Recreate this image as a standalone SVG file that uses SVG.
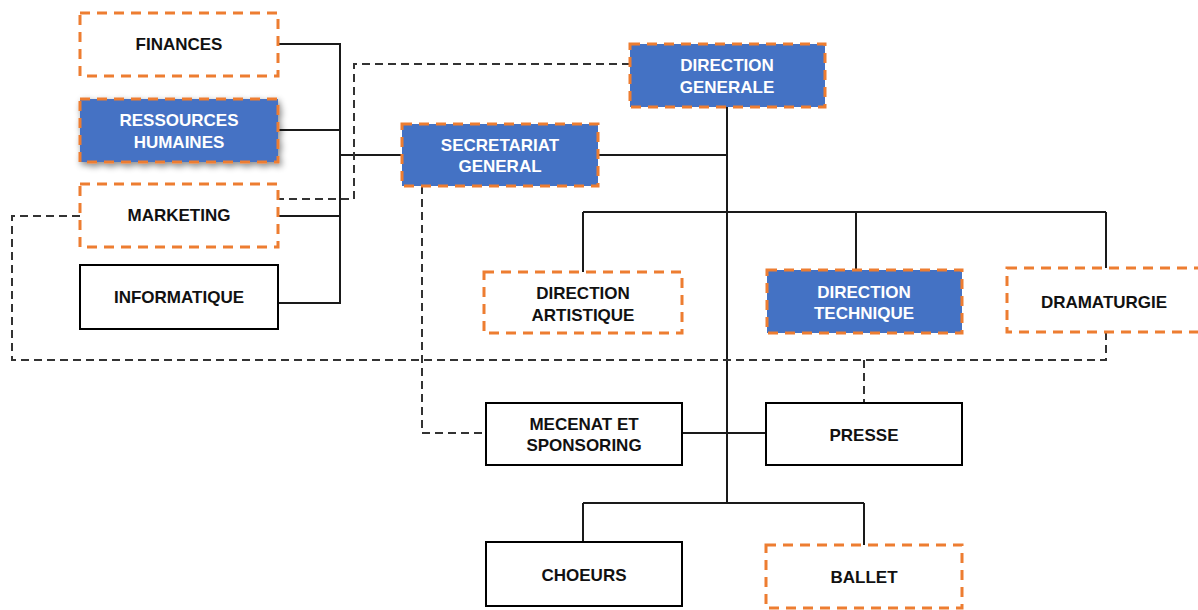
<svg xmlns="http://www.w3.org/2000/svg" width="1198" height="610" viewBox="0 0 1198 610">
<style>
.box{fill:#fff;stroke:#000;stroke-width:2}
.ob{fill:#fff;stroke:#ED7D31;stroke-width:3;stroke-dasharray:10 7}
.bb{fill:#4472C4;stroke:#ED7D31;stroke-width:3;stroke-dasharray:10 7}
.t{font-family:"Liberation Sans",Arial,sans-serif;font-weight:bold;font-size:17px;text-anchor:middle;dominant-baseline:central;fill:#111}
.w{fill:#fff}
.ln{fill:none;stroke:#1a1a1a;stroke-width:2}
.dl{fill:none;stroke:#333;stroke-width:2;stroke-dasharray:8 5}
</style>
<defs>
<filter id="sh" x="-10%" y="-20%" width="125%" height="150%">
<feDropShadow dx="2" dy="3" stdDeviation="3" flood-color="#000" flood-opacity="0.45"/>
</filter>
</defs>
<rect width="1198" height="610" fill="#fff"/>
<g id="connectors">
<path class="ln" d="M278 44H340V303H278M278 130H340M278 216H340M340 155H402"/>
<path class="ln" d="M598 155H727M727 107V503M583 212H1106M583 212V272M856 212V270M1106 212V268"/>
<path class="ln" d="M682 433H766M583 503H864M583 503V542M864 503V545"/>
<path class="dl" d="M630 64H354V199H278"/>
<path class="dl" d="M80 216H12V360H1106V332M864 360V403"/>
<path class="dl" d="M422 186V433H486"/>
</g>
<g id="finances"><rect class="ob" x="80" y="13" width="198" height="63"/><text class="t" x="179" y="44">FINANCES</text></g>
<g id="rh"><rect class="bb" x="80" y="99" width="198" height="63" filter="url(#sh)"/><text class="t w" x="179" y="120">RESSOURCES</text><text class="t w" x="179" y="142">HUMAINES</text></g>
<g id="marketing"><rect class="ob" x="80" y="184" width="198" height="63"/><text class="t" x="179" y="215">MARKETING</text></g>
<g id="informatique"><rect class="box" x="80" y="265" width="198" height="64"/><text class="t" x="179" y="297">INFORMATIQUE</text></g>
<g id="secretariat"><rect class="bb" x="402" y="124" width="196" height="62"/><text class="t w" x="500" y="145">SECRETARIAT</text><text class="t w" x="500" y="166">GENERAL</text></g>
<g id="direction-generale"><rect class="bb" x="630" y="44" width="195" height="63"/><text class="t w" x="727" y="65">DIRECTION</text><text class="t w" x="727" y="87">GENERALE</text></g>
<g id="direction-artistique"><rect class="ob" x="484" y="272" width="198" height="61"/><text class="t" x="583" y="293">DIRECTION</text><text class="t" x="583" y="315">ARTISTIQUE</text></g>
<g id="direction-technique"><rect class="bb" x="767" y="270" width="195" height="63"/><text class="t w" x="864" y="292">DIRECTION</text><text class="t w" x="864" y="313">TECHNIQUE</text></g>
<g id="dramaturgie"><rect class="ob" x="1007" y="268" width="200" height="64"/><text class="t" x="1104" y="302">DRAMATURGIE</text></g>
<g id="mecenat"><rect class="box" x="486" y="403" width="196" height="62"/><text class="t" x="584" y="424">MECENAT ET</text><text class="t" x="584" y="445">SPONSORING</text></g>
<g id="presse"><rect class="box" x="766" y="403" width="196" height="62"/><text class="t" x="864" y="435">PRESSE</text></g>
<g id="choeurs"><rect class="box" x="486" y="542" width="196" height="64"/><text class="t" x="584" y="575">CHOEURS</text></g>
<g id="ballet"><rect class="ob" x="766" y="545" width="196" height="63"/><text class="t" x="864" y="577">BALLET</text></g>
</svg>
